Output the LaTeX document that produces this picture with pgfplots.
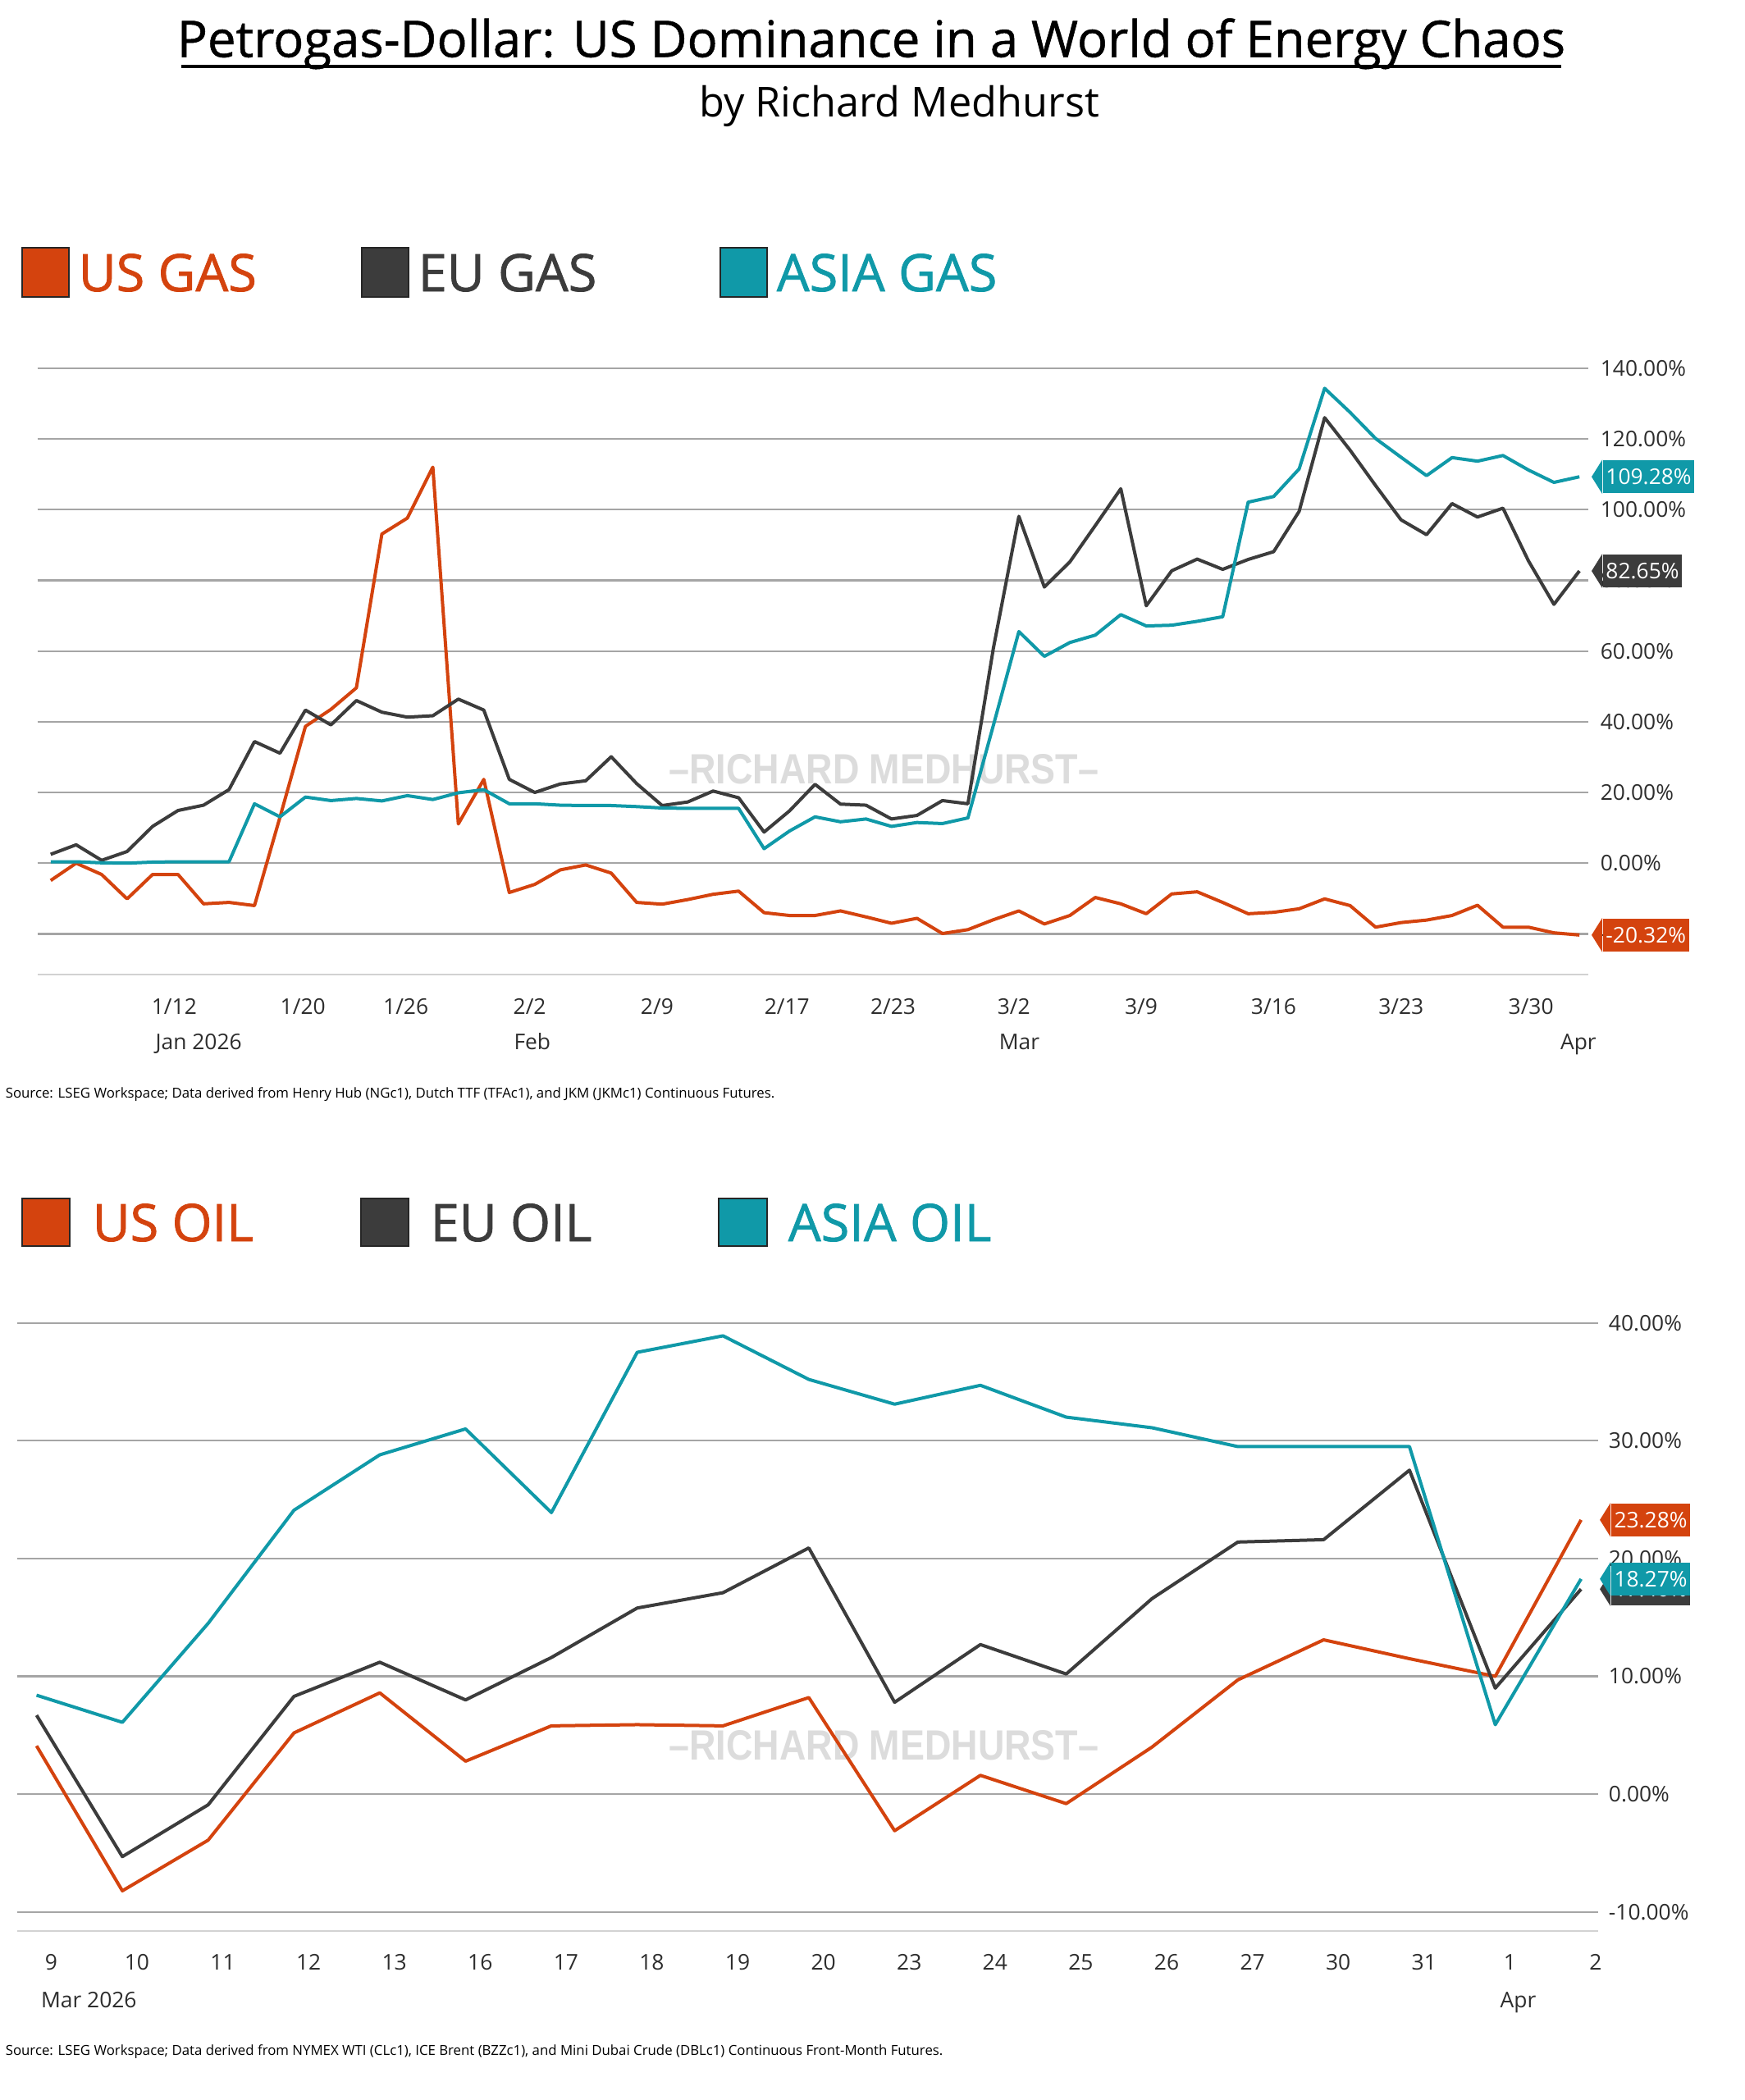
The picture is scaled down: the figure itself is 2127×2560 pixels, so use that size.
\documentclass[border=0pt]{standalone}
\usepackage{fontspec}
\setmainfont{Open Sans}
\newfontfamily\semifont{Open Sans}[FakeBold=1.2]
\newfontfamily\titlefont{Open Sans}[FakeBold=0.8]
\newfontfamily\wmfont{Liberation Sans}
\usepackage{graphicx}
\usepackage{pgfplots}
\usepackage{pgfplotstable}
\pgfplotsset{compat=1.18}
\usetikzlibrary{calc}
\definecolor{usc}{RGB}{212,67,14}
\definecolor{euc}{RGB}{60,60,60}
\definecolor{asiac}{RGB}{16,153,168}
\definecolor{gridc}{RGB}{165,165,165}
\definecolor{bottomc}{RGB}{210,210,210}
\definecolor{tickc}{RGB}{45,45,45}
\definecolor{wmc}{RGB}{220,220,220}
\newcommand{\tickfont}{\fontsize{6.6}{8}\selectfont}
\newcommand{\legfont}{\semifont\fontsize{15.75}{18}\selectfont}
\newcommand{\valtag}[4]{%
 \node[fill=#2, text=white, font=\tickfont, anchor=west, inner xsep=0.9pt, inner ysep=0pt, minimum height=10pt] (tg) at ($(#1)+(#4+13,0)$) {#3};
 \fill[#2] (tg.north west) -- ($(tg.west)+(-13,0)$) -- (tg.south west) -- cycle;}

\pgfplotstableread{
i us eu asia
0 -4.9 2.5 0.4
1 0 5.2 0.4
2 -3.2 0.8 0.1
3 -10.1 3.3 0
4 -3.2 10.4 0.3
5 -3.2 14.9 0.4
6 -11.5 16.4 0.4
7 -11.1 20.8 0.4
8 -12.0 34.4 16.8
9 13 31.1 13.1
10 38.7 43.3 18.7
11 43.5 39.1 17.7
12 49.6 46 18.3
13 93.1 42.7 17.6
14 97.6 41.3 19.1
15 112 41.7 18
16 11.1 46.4 19.9
17 23.7 43.3 20.8
18 -8.3 23.7 16.8
19 -6 20 16.8
20 -1.9 22.4 16.4
21 -0.5 23.3 16.3
22 -2.8 30.1 16.3
23 -11.1 22.5 16
24 -11.6 16.3 15.6
25 -10.3 17.3 15.5
26 -8.8 20.4 15.5
27 -7.9 18.5 15.5
28 -14 8.8 4.1
29 -14.8 14.8 9.1
30 -14.8 22.3 13.1
31 -13.5 16.7 11.7
32 -15.2 16.4 12.5
33 -17 12.5 10.4
34 -15.6 13.5 11.5
35 -19.9 17.7 11.2
36 -18.8 16.8 12.8
37 -16 60.8 39
38 -13.5 98.1 65.5
39 -17.2 78.1 58.5
40 -14.8 85.2 62.4
41 -9.7 95.5 64.5
42 -11.5 105.9 70.3
43 -14.3 72.8 67.1
44 -8.7 82.7 67.3
45 -8.1 86 68.4
46 -11.1 83.1 69.7
47 -14.3 85.9 102.1
48 -13.9 88.1 103.7
49 -12.9 99.5 111.5
50 -10.1 126 134.3
51 -12 116.8 127.5
52 -18.1 106.8 120.1
53 -16.8 97.1 114.8
54 -16.1 92.9 109.6
55 -14.8 101.7 114.7
56 -11.9 97.9 113.7
57 -18.1 100.4 115.3
58 -18.1 85.5 111.2
59 -19.7 73.2 107.7
60 -20.32 82.65 109.28
}\gasdata

\pgfplotstableread{
i us eu asia
0 4.1 6.7 8.4
1 -8.2 -5.3 6.1
2 -3.9 -0.9 14.5
3 5.2 8.3 24.1
4 8.6 11.2 28.8
5 2.8 8.0 31.0
6 5.8 11.6 23.9
7 5.9 15.8 37.5
8 5.8 17.1 38.9
9 8.2 20.9 35.2
10 -3.1 7.8 33.1
11 1.6 12.7 34.7
12 -0.8 10.2 32.0
13 4.0 16.6 31.1
14 9.7 21.4 29.5
15 13.1 21.6 29.5
16 11.5 27.5 29.5
17 10.0 9.0 5.9
18 23.28 17.4 18.27
}\oildata

\begin{document}
\begin{tikzpicture}[x=0.25pt,y=0.25pt]
\path[use as bounding box] (0,0) rectangle (2127,-2560);
\coordinate (gasSW) at (45.6,-1188);
\coordinate (oilSW) at (20.5,-2353.8);

% ---- title ----
\node[anchor=base, inner sep=0, font=\titlefont\fontsize{15.4}{18}\selectfont] at (1062,-69.5) {Petrogas-Dollar: US Dominance in a World of Energy Chaos};
\draw[line width=0.9pt] (221,-81) -- (1903,-81);
\node[anchor=base, inner sep=0, font=\fontsize{12.6}{15}\selectfont] at (1096,-142) {by Richard Medhurst};

% ---- gas legend ----
\filldraw[fill=usc, draw=black!85, line width=0.5pt] (27,-302) rectangle (84,-362);
\filldraw[fill=euc, draw=black!85, line width=0.5pt] (441,-302) rectangle (498,-362);
\filldraw[fill=asiac, draw=black!85, line width=0.5pt] (878,-302) rectangle (935,-362);
\node[anchor=base west, inner sep=0, text=usc, font=\legfont] at (95,-355) {US GAS};
\node[anchor=base west, inner sep=0, text=euc, font=\legfont] at (509,-355) {EU GAS};
\node[anchor=base west, inner sep=0, text=asiac, font=\legfont] at (946,-355) {ASIA GAS};

% ---- watermarks ----
\node[font=\wmfont\bfseries\fontsize{12.9}{14}\selectfont, text=wmc, inner sep=0] at (1077.5,-938) {\scalebox{0.87}[1]{–RICHARD MEDHURST–}};
\node[font=\wmfont\bfseries\fontsize{12.9}{14}\selectfont, text=wmc, inner sep=0] at (1077.5,-2128) {\scalebox{0.87}[1]{–RICHARD MEDHURST–}};

% ---- gas axis ----
\begin{axis}[
 at={(gasSW)}, anchor=south west, scale only axis,
 width=472.6pt, height=184.8pt,
 xmin=-0.52, xmax=60.35, ymin=-31.5, ymax=140,
 axis line style={draw=none},
 major tick length=0pt,
 ytick={-20,0,20,40,60,80,100,120,140},
 yticklabels={-20.00\%,0.00\%,20.00\%,40.00\%,60.00\%,80.00\%,100.00\%,120.00\%,140.00\%},
 yticklabel pos=right,
 ymajorgrids, grid style={gridc, line width=0.55pt},
 extra y ticks={-31.5}, extra y tick labels={},
 extra y tick style={grid=major, grid style={bottomc, line width=0.55pt}},
 xtick={4.85,9.9,13.94,18.8,23.8,28.9,33.06,37.8,42.8,48.0,53.0,58.1},
 xticklabels={1/12,1/20,1/26,2/2,2/9,2/17,2/23,3/2,3/9,3/16,3/23,3/30},
 tick label style={font=\tickfont, inner sep=0pt, text=tickc},
 yticklabel style={anchor=west, xshift=3.5pt},
 xticklabel style={anchor=base, yshift=-12pt},
 clip=false,
]
\addplot[usc, line width=1pt, line join=round] table[x=i,y=us] {\gasdata};
\addplot[euc, line width=1pt, line join=round] table[x=i,y=eu] {\gasdata};
\addplot[asiac, line width=1pt, line join=round] table[x=i,y=asia] {\gasdata};
\node[anchor=base west, font=\tickfont, inner sep=0, text=tickc, yshift=-22.9pt] at (axis cs:4.09,-31.5) {Jan 2026};
\node[anchor=base west, font=\tickfont, inner sep=0, text=tickc, yshift=-22.9pt] at (axis cs:18.16,-31.5) {Feb};
\node[anchor=base west, font=\tickfont, inner sep=0, text=tickc, yshift=-22.9pt] at (axis cs:37.2,-31.5) {Mar};
\node[anchor=base west, font=\tickfont, inner sep=0, text=tickc, yshift=-22.9pt] at (axis cs:59.23,-31.5) {Apr};
\coordinate (gUS) at (axis cs:60.35,-20.32);
\coordinate (gEU) at (axis cs:60.35,82.65);
\coordinate (gAS) at (axis cs:60.35,109.28);
\end{axis}
\valtag{gAS}{asiac}{109.28\%}{4}
\valtag{gEU}{euc}{82.65\%}{4}
\valtag{gUS}{usc}{-20.32\%}{4}

\node[anchor=west, inner sep=0, font=\fontsize{4.2}{5}\selectfont] at (6,-1334) {Source: LSEG Workspace; Data derived from Henry Hub (NGc1), Dutch TTF (TFAc1), and JKM (JKMc1) Continuous Futures.};

% ---- oil legend ----
\filldraw[fill=usc, draw=black!85, line width=0.5pt] (26.5,-1461) rectangle (84.6,-1519);
\filldraw[fill=euc, draw=black!85, line width=0.5pt] (439.5,-1461) rectangle (498,-1519);
\filldraw[fill=asiac, draw=black!85, line width=0.5pt] (876,-1461) rectangle (934.5,-1519);
\node[anchor=base west, inner sep=0, text=usc, font=\legfont] at (112,-1513) {US OIL};
\node[anchor=base west, inner sep=0, text=euc, font=\legfont] at (524,-1513) {EU OIL};
\node[anchor=base west, inner sep=0, text=asiac, font=\legfont] at (960,-1513) {ASIA OIL};

% ---- oil axis ----
\begin{axis}[
 at={(oilSW)}, anchor=south west, scale only axis,
 width=481.9pt, height=185.3pt,
 xmin=-0.23, xmax=18.2, ymin=-11.6, ymax=40,
 axis line style={draw=none},
 major tick length=0pt,
 ytick={-10,0,10,20,30,40},
 yticklabels={-10.00\%,0.00\%,10.00\%,20.00\%,30.00\%,40.00\%},
 yticklabel pos=right,
 ymajorgrids, grid style={gridc, line width=0.55pt},
 extra y ticks={-11.6}, extra y tick labels={},
 extra y tick style={grid=major, grid style={bottomc, line width=0.55pt}},
 xtick={0.17,1.17,2.17,3.17,4.17,5.17,6.17,7.17,8.17,9.17,10.17,11.17,12.17,13.17,14.17,15.17,16.17,17.17,18.17},
 xticklabels={9,10,11,12,13,16,17,18,19,20,23,24,25,26,27,30,31,1,2},
 tick label style={font=\tickfont, inner sep=0pt, text=tickc},
 yticklabel style={anchor=west, xshift=3pt},
 xticklabel style={anchor=base, yshift=-11.9pt},
 clip=false,
]
\addplot[usc, line width=1pt, line join=round] table[x=i,y=us] {\oildata};
\addplot[euc, line width=1pt, line join=round] table[x=i,y=eu] {\oildata};
\addplot[asiac, line width=1pt, line join=round] table[x=i,y=asia] {\oildata};
\node[anchor=base west, font=\tickfont, inner sep=0, text=tickc, yshift=-23.4pt] at (axis cs:0.045,-11.6) {Mar 2026};
\node[anchor=base west, font=\tickfont, inner sep=0, text=tickc, yshift=-23.4pt] at (axis cs:17.05,-11.6) {Apr};
\coordinate (oUS) at (axis cs:18.2,23.28);
\coordinate (oEU) at (axis cs:18.2,17.4);
\coordinate (oAS) at (axis cs:18.2,18.27);
\end{axis}
\valtag{oEU}{euc}{17.40\%}{2}
\valtag{oAS}{asiac}{18.27\%}{2}
\valtag{oUS}{usc}{23.28\%}{2}

\node[anchor=west, inner sep=0, font=\fontsize{4.2}{5}\selectfont] at (6,-2501) {Source: LSEG Workspace; Data derived from NYMEX WTI (CLc1), ICE Brent (BZZc1), and Mini Dubai Crude (DBLc1) Continuous Front-Month Futures.};
\end{tikzpicture}
\end{document}
